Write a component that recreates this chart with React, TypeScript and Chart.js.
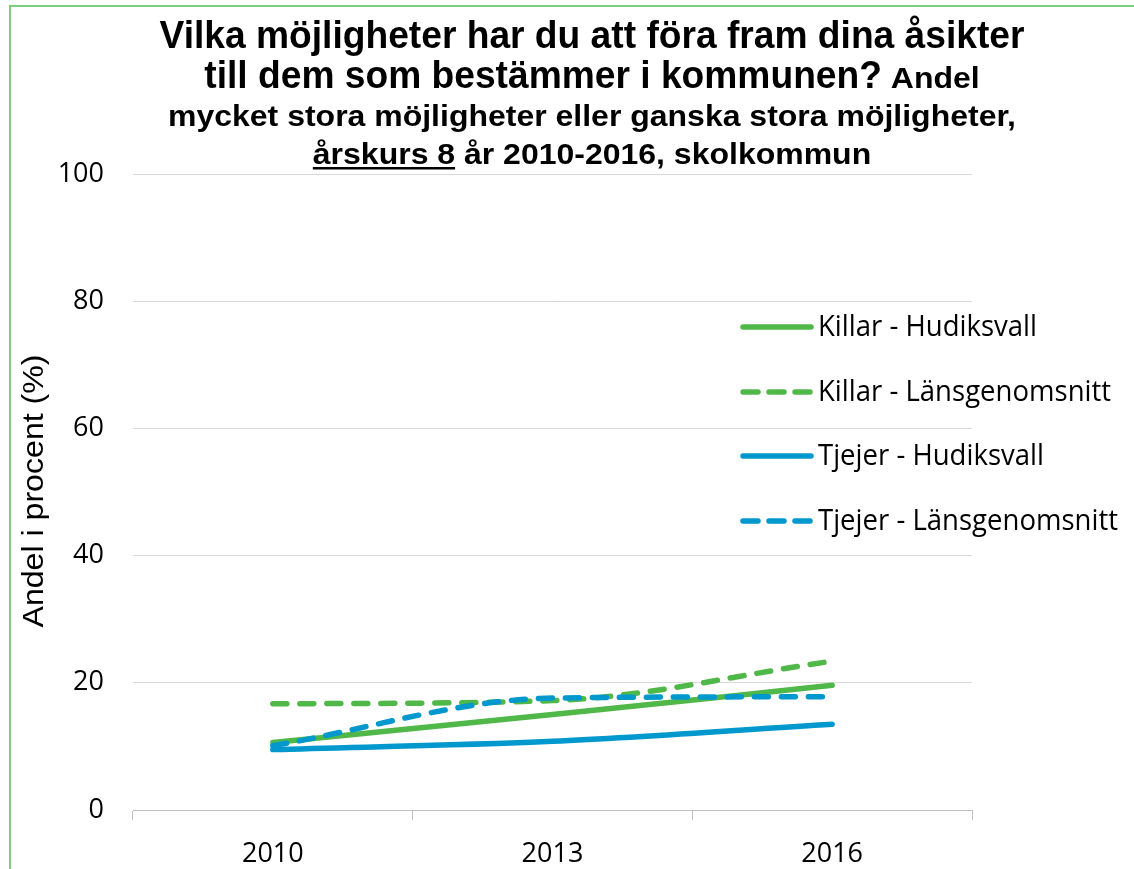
import React, { useEffect, useRef } from 'react';
import { Chart, registerables } from 'chart.js';

Chart.register(...registerables);

// ---- Data ----
const categories = ['2010', '2013', '2016'];
const killarHudiksvall = [10.6, 15.0, 19.6];
const killarLansgenomsnitt = [16.7, 17.2, 23.4];
const tjejerHudiksvall = [9.5, 10.8, 13.5];
const tjejerLansgenomsnitt = [10.1, 17.6, 17.8];
const seriesNames = [
  'Killar - Hudiksvall',
  'Killar - Länsgenomsnitt',
  'Tjejer - Hudiksvall',
  'Tjejer - Länsgenomsnitt',
];
const yMin = 0;
const yMax = 100;
const yStep = 20;

const titleLine1 = 'Vilka möjligheter har du att föra fram dina åsikter';
const titleLine2Big = 'till dem som bestämmer i kommunen?';
const titleLine2Small = ' Andel';
const titleLine3 = 'mycket stora möjligheter eller ganska stora möjligheter,';
const titleLine4Underlined = 'årskurs 8';
const titleLine4Rest = ' år 2010-2016, skolkommun';
const yAxisTitle = 'Andel i procent (%)';

const GREEN = '#50b848';
const BLUE = '#0098cd';

function drawScaled(ctx: CanvasRenderingContext2D, text: string, x: number, y: number, sx: number, align: CanvasTextAlign) {
  ctx.save();
  ctx.translate(x, y);
  ctx.scale(sx, 1);
  ctx.textAlign = align;
  ctx.fillText(text, 0, 0);
  ctx.restore();
}

const decorPlugin = {
  id: 'decor',
  afterDraw(chart: any) {
    const ctx: CanvasRenderingContext2D = chart.ctx;
    ctx.save();
    // outer border
    ctx.strokeStyle = '#7ccd7c';
    ctx.lineWidth = 2;
    ctx.beginPath();
    ctx.moveTo(10, 900);
    ctx.lineTo(10, 6);
    ctx.lineTo(1200, 6);
    ctx.stroke();

    // title
    ctx.fillStyle = '#000';
    ctx.textBaseline = 'alphabetic';
    const BIG = 'bold 38px "Liberation Sans", Arial, sans-serif';
    const SMALL = 'bold 30px "Liberation Sans", Arial, sans-serif';
    const cx = 592;
    ctx.font = BIG;
    const sB = 865 / ctx.measureText(titleLine1).width;
    ctx.font = SMALL;
    const sS = 848 / ctx.measureText(titleLine3).width;

    ctx.font = BIG;
    drawScaled(ctx, titleLine1, cx, 48, sB, 'center');

    ctx.font = BIG;
    const wBig = ctx.measureText(titleLine2Big).width * sB;
    ctx.font = SMALL;
    const wSmall = ctx.measureText(titleLine2Small).width * sS;
    let x0 = cx - (wBig + wSmall) / 2;
    ctx.font = BIG;
    drawScaled(ctx, titleLine2Big, x0, 88, sB, 'left');
    ctx.font = SMALL;
    drawScaled(ctx, titleLine2Small, x0 + wBig, 88, sS, 'left');

    ctx.font = SMALL;
    drawScaled(ctx, titleLine3, cx, 126, sS, 'center');

    const wU = ctx.measureText(titleLine4Underlined).width * sS;
    const wR = ctx.measureText(titleLine4Rest).width * sS;
    x0 = cx - (wU + wR) / 2;
    drawScaled(ctx, titleLine4Underlined, x0, 164, sS, 'left');
    drawScaled(ctx, titleLine4Rest, x0 + wU, 164, sS, 'left');
    ctx.fillRect(x0, 167, wU, 2.5);

    // y axis title
    ctx.font = '30px "Liberation Sans", Arial, sans-serif';
    const sY = 273 / ctx.measureText(yAxisTitle).width;
    ctx.save();
    ctx.translate(35, 491);
    ctx.rotate(-Math.PI / 2);
    ctx.textBaseline = 'middle';
    drawScaled(ctx, yAxisTitle, 0, 0, sY, 'center');
    ctx.restore();

    // legend
    const ys = [327, 392, 456, 521];
    ctx.font = '29px "Open Sans", sans-serif';
    const sL = 219 / ctx.measureText(seriesNames[0]).width;
    chart.data.datasets.forEach((ds: any, i: number) => {
      const y = ys[i];
      ctx.save();
      ctx.strokeStyle = ds.borderColor;
      ctx.lineWidth = 5.5;
      ctx.lineCap = 'round';
      ctx.setLineDash(ds.borderDash ? [15, 11] : []);
      ctx.beginPath();
      ctx.moveTo(743, y);
      ctx.lineTo(811, y);
      ctx.stroke();
      ctx.restore();
      ctx.fillStyle = '#000';
      ctx.textBaseline = 'middle';
      drawScaled(ctx, ds.label, 818, y + 1, sL, 'left');
    });
    ctx.restore();
  },
};

export default function App() {
  const ref = useRef<HTMLCanvasElement>(null);
  useEffect(() => {
    if (!ref.current) return;
    const dash = [14, 13];
    const common = {
      borderWidth: 5.5,
      pointRadius: 0,
      pointHoverRadius: 0,
      cubicInterpolationMode: 'monotone',
      borderCapStyle: 'round',
      borderJoinStyle: 'round',
      fill: false,
    };
    const chart = new Chart(ref.current, {
      type: 'line',
      data: {
        labels: categories,
        datasets: [
          { ...common, label: seriesNames[0], data: killarHudiksvall, borderColor: GREEN, backgroundColor: GREEN, order: 4 },
          { ...common, label: seriesNames[1], data: killarLansgenomsnitt, borderColor: GREEN, backgroundColor: GREEN, borderDash: dash, order: 3 },
          { ...common, label: seriesNames[2], data: tjejerHudiksvall, borderColor: BLUE, backgroundColor: BLUE, order: 2 },
          { ...common, label: seriesNames[3], data: tjejerLansgenomsnitt, borderColor: BLUE, backgroundColor: BLUE, borderDash: dash, order: 1 },
        ] as any,
      },
      options: {
        animation: false,
        responsive: false,
        devicePixelRatio: 1,
        layout: { padding: { top: 174, right: 162, left: 0, bottom: 0 } },
        plugins: {
          legend: { display: false },
          title: { display: false },
          tooltip: { enabled: false },
        },
        scales: {
          x: {
            type: 'category',
            offset: true,
            grid: {
              offset: true,
              drawOnChartArea: false,
              drawTicks: true,
              tickLength: 10,
              color: '#bfbfbf',
            },
            border: { display: true, color: '#bfbfbf' },
            ticks: {
              color: '#000',
              padding: 18,
              maxRotation: 0,
              font: { family: '"Open Sans", sans-serif', size: 27 },
            },
            afterFit: (s: any) => { s.height = 59; },
          },
          y: {
            min: yMin,
            max: yMax,
            grid: { color: '#d9d9d9', drawTicks: false, lineWidth: 1 },
            border: { display: false },
            ticks: {
              stepSize: yStep,
              color: '#000',
              padding: 29,
              font: { family: '"Open Sans", sans-serif', size: 27 },
            },
            afterFit: (s: any) => { s.width = 133; },
          },
        },
      } as any,
      plugins: [decorPlugin],
    });
    return () => chart.destroy();
  }, []);
  return (
    <div style={{ position: 'fixed', left: 0, top: 0, width: 1134, height: 869, background: '#fff' }}>
      <canvas ref={ref} width={1134} height={869} style={{ display: 'block' }} />
    </div>
  );
}
